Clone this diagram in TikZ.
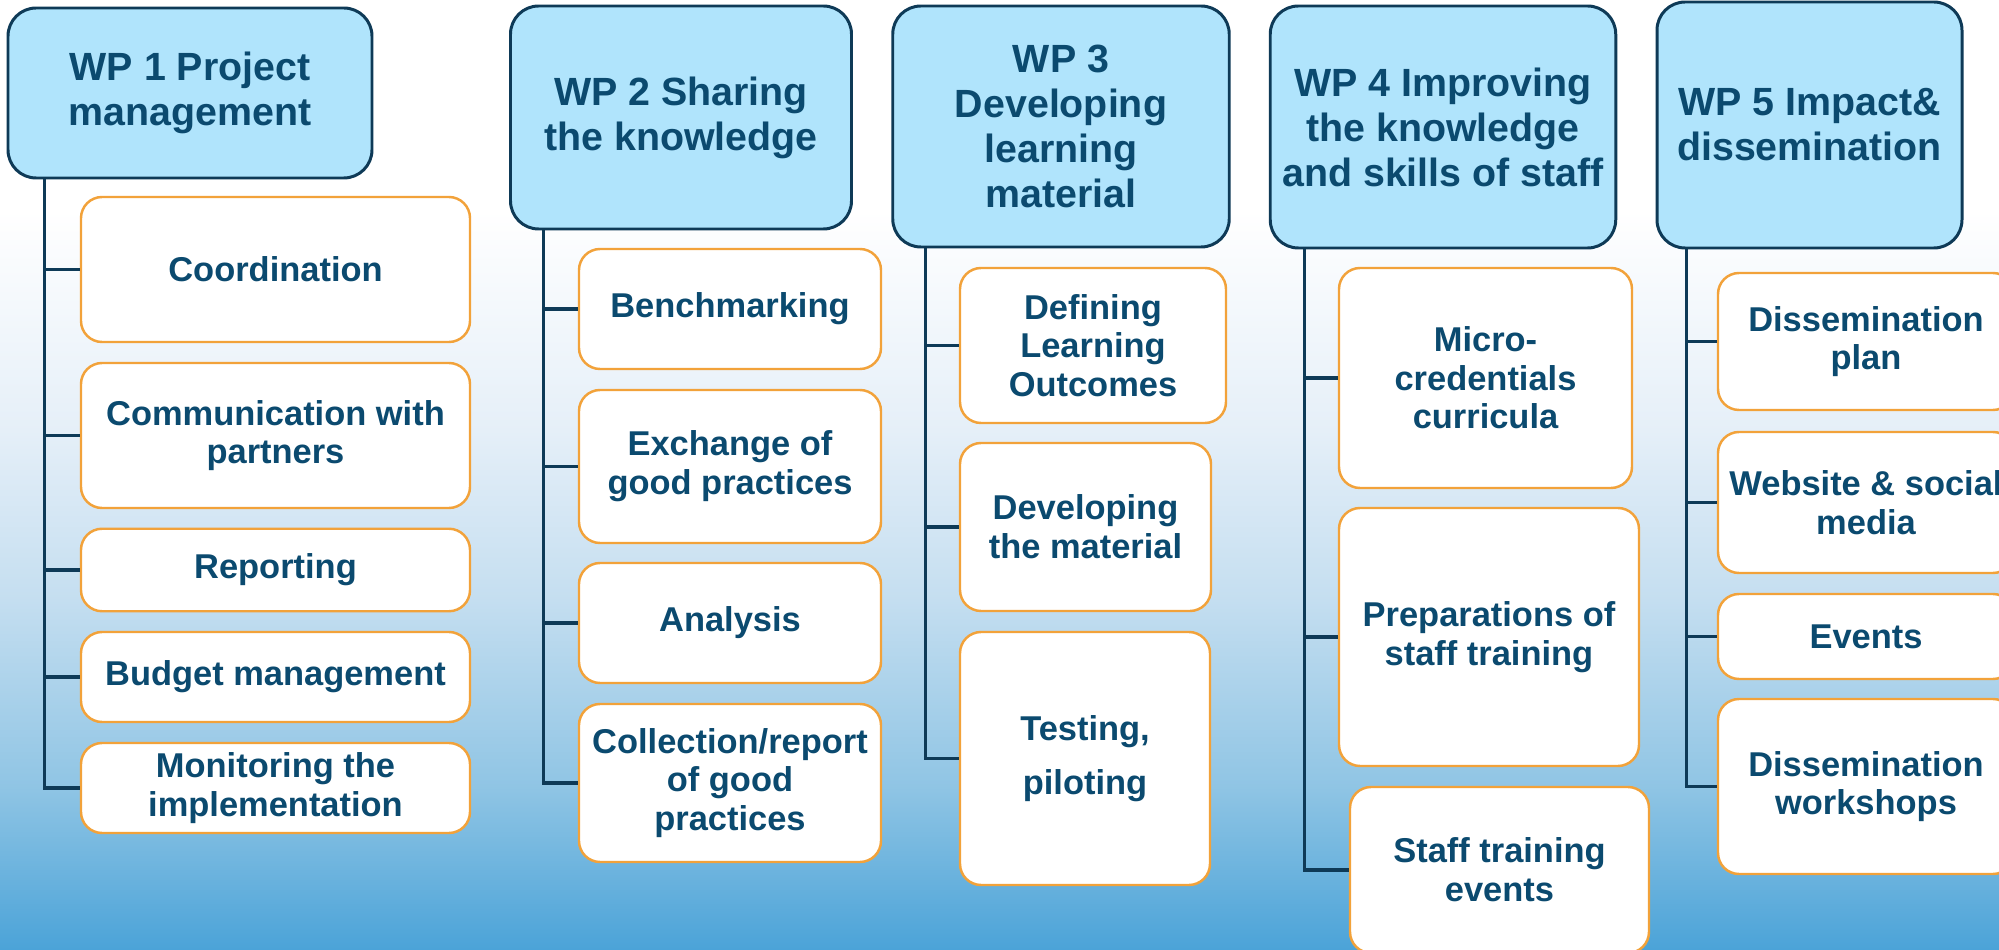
\documentclass[tikz,border=0pt]{standalone}
\usepackage{fontspec}
\setmainfont{Liberation Sans}

\definecolor{wptext}{HTML}{0B4A6F}
\definecolor{wpline}{HTML}{0E3A57}
\definecolor{wpfill}{HTML}{B0E4FC}
\definecolor{taskline}{HTML}{F2A23A}
\definecolor{bgA}{HTML}{E5EFF8}
\definecolor{bgB}{HTML}{C4DEF0}
\definecolor{bgC}{HTML}{8EC4E4}
\definecolor{bgD}{HTML}{4BA3D8}

\tikzset{
  wp/.style={draw=wpline, line width=0.85pt, fill=wpfill, rounded corners=8pt,
    inner sep=0pt, align=center, text=wptext,
    font=\fontsize{11.2}{12.8}\selectfont\bfseries},
  task/.style={draw=taskline, line width=0.7pt, fill=white, rounded corners=6pt,
    inner sep=0pt, align=center, text=wptext,
    font=\fontsize{9.8}{11}\selectfont\bfseries},
  link/.style={wpline, line width=0.9pt}
}

\begin{document}
\begin{tikzpicture}
\clip (0,0) rectangle (19.99,-9.50);
\useasboundingbox (0,0) rectangle (19.99,-9.50);

% background: white on top, fading into blue
\fill[white] (0,0) rectangle (19.99,-2.12);
\shade[top color=white, bottom color=bgA] (0,-2.1) rectangle (19.99,-4.32);
\shade[top color=bgA, bottom color=bgB] (0,-4.3) rectangle (19.99,-6.02);
\shade[top color=bgB, bottom color=bgC] (0,-6.0) rectangle (19.99,-7.92);
\shade[top color=bgC, bottom color=bgD] (0,-7.9) rectangle (19.99,-9.50);

% work packages
\node[wp, minimum width=3.64cm, minimum height=1.70cm] (wp1) at (1.90,-0.93) {WP 1 Project\\management};
\node[wp, minimum width=3.41cm, minimum height=2.23cm] (wp2) at (6.81,-1.175) {WP 2 Sharing\\the knowledge};
\node[wp, minimum width=3.365cm, minimum height=2.41cm] (wp3) at (10.61,-1.265) {WP 3\\Developing\\learning\\material};
\node[wp, minimum width=3.455cm, minimum height=2.42cm] (wp4) at (14.43,-1.27) {WP 4 Improving\\the knowledge\\and skills of staff};
\node[wp, minimum width=3.05cm, minimum height=2.46cm] (wp5) at (18.095,-1.25) {WP 5 Impact\&\\dissemination};

% WP 1 tasks
\node[task, minimum width=3.89cm, minimum height=1.45cm] (a1) at (2.755,-2.695) {Coordination};
\node[task, minimum width=3.89cm, minimum height=1.45cm] (a2) at (2.755,-4.355) {Communication with\\partners};
\node[task, minimum width=3.89cm, minimum height=0.825cm] (a3) at (2.755,-5.70) {Reporting};
\node[task, minimum width=3.89cm, minimum height=0.90cm] (a4) at (2.755,-6.77) {Budget management};
\node[task, minimum width=3.89cm, minimum height=0.90cm] (a5) at (2.755,-7.88) {Monitoring the\\implementation};

% WP 2 tasks
\node[task, minimum width=3.02cm, minimum height=1.20cm] (b1) at (7.30,-3.09) {Benchmarking};
\node[task, minimum width=3.02cm, minimum height=1.53cm] (b2) at (7.30,-4.665) {Exchange of\\good practices};
\node[task, minimum width=3.02cm, minimum height=1.20cm] (b3) at (7.30,-6.23) {Analysis};
\node[task, minimum width=3.02cm, minimum height=1.58cm] (b4) at (7.30,-7.83) {Collection/report\\of good\\practices};

% WP 3 tasks
\node[task, minimum width=2.66cm, minimum height=1.55cm] (c1) at (10.93,-3.455) {Defining\\Learning\\Outcomes};
\node[task, minimum width=2.51cm, minimum height=1.68cm] (c2) at (10.855,-5.27) {Developing\\the material};
\node[task, minimum width=2.50cm, minimum height=2.53cm] (c3) at (10.85,-7.585) {Testing,\\[4.4pt]piloting};

% WP 4 tasks
\node[task, minimum width=2.93cm, minimum height=2.20cm] (d1) at (14.855,-3.78) {Micro-\\credentials\\curricula};
\node[task, minimum width=3.00cm, minimum height=2.58cm] (d2) at (14.89,-6.37) {Preparations of\\staff training};
\node[task, minimum width=2.99cm, minimum height=1.66cm] (d3) at (14.995,-8.70) {Staff training\\events};

% WP 5 tasks
\node[task, minimum width=2.96cm, minimum height=1.37cm] (e1) at (18.66,-3.415) {Dissemination\\plan};
\node[task, minimum width=2.96cm, minimum height=1.41cm] (e2) at (18.66,-5.025) {Website \& social\\media};
\node[task, minimum width=2.96cm, minimum height=0.85cm] (e3) at (18.66,-6.365) {Events};
\node[task, minimum width=2.96cm, minimum height=1.75cm] (e4) at (18.66,-7.865) {Dissemination\\workshops};

% trunk lines
\foreach \t in {a1,a2,a3,a4,a5}
  \draw[link] (wp1.south west) ++(0.38,0) |- (\t.west);
\foreach \t in {b1,b2,b3,b4}
  \draw[link] (wp2.south west) ++(0.345,0) |- (\t.west);
\foreach \t in {c1,c2,c3}
  \draw[link] (wp3.south west) ++(0.34,0) |- (\t.west);
\foreach \t in {d1,d2,d3}
  \draw[link] (wp4.south west) ++(0.36,0) |- (\t.west);
\foreach \t in {e1,e2,e3,e4}
  \draw[link] (wp5.south west) ++(0.31,0) |- (\t.west);
\end{tikzpicture}
\end{document}
